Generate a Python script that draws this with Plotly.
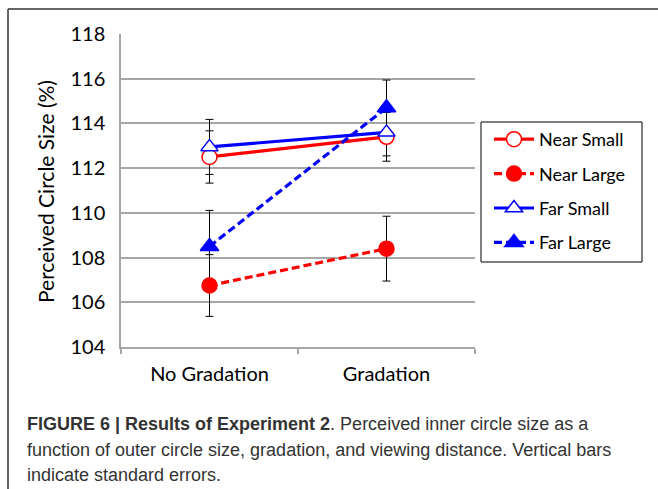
import plotly.graph_objects as go

categories = ["No Gradation", "Gradation"]
series_names = ["Near Small", "Near Large", "Far Small", "Far Large"]
near_small = [112.5, 113.4]
near_large = [106.75, 108.4]
far_small = [112.95, 113.6]
far_large = [108.5, 114.7]
near_small_err = [1.17, 1.09]
near_large_err = [1.38, 1.45]
far_small_err = [1.23, 1.05]
far_large_err = [1.61, 1.24]
y_ticks = [104, 106, 108, 110, 112, 114, 116, 118]

W, H = 658, 489
L, R, T, B = 121, 475, 34, 347


def px(x):
    return (x - L) / (R - L)


def py(y):
    return (B - y) / (B - T)


RED = "#ff0000"
BLUE = "#0000ff"
values = [near_small, near_large, far_small, far_large]
errors = [near_small_err, near_large_err, far_small_err, far_large_err]
colors = [RED, RED, BLUE, BLUE]
dashes = ["solid", "8px,4px", "solid", "8px,4px"]
symbols = ["circle", "circle", "triangle-up", "triangle-up"]
fills = ["white", RED, "white", BLUE]
sizes = [15, 15, 15, 16]

fig = go.Figure()
# error bars first so markers sit on top
for v, e in zip(values, errors):
    fig.add_trace(go.Scatter(
        x=categories, y=v, mode="markers",
        marker=dict(size=1, color="rgba(0,0,0,0)"),
        error_y=dict(type="data", array=e, visible=True, color="#000000",
                     thickness=1, width=4),
        showlegend=False, hoverinfo="skip"))

for name, v, c, d, s, f, sz in zip(series_names, values, colors, dashes,
                                    symbols, fills, sizes):
    fig.add_trace(go.Scatter(
        x=categories, y=v, mode="lines+markers", name=name,
        line=dict(color=c, width=3.2, dash=d),
        marker=dict(symbol=s, size=sz, color=f, line=dict(color=c, width=1.5)),
        legendgroup=name))

FONT = "Lato, 'Open Sans', sans-serif"
CAP_FONT = "'Liberation Sans Narrow', 'Liberation Sans', Arial, sans-serif"

shapes = [
    # outer frame (left and top)
    dict(type="line", xref="paper", yref="paper", x0=px(8), x1=px(8),
         y0=py(9), y1=py(489), line=dict(color="#333333", width=1.5)),
    dict(type="line", xref="paper", yref="paper", x0=px(8), x1=px(658),
         y0=py(9), y1=py(9), line=dict(color="#333333", width=1.5)),
    # legend box
    dict(type="rect", xref="paper", yref="paper", x0=px(481), x1=px(642),
         y0=py(122), y1=py(262), line=dict(color="#000000", width=1),
         fillcolor="rgba(0,0,0,0)"),
]

annotations = [
    dict(text="Perceived Circle Size (%)", textangle=-90, xref="paper",
         yref="paper", x=px(45), y=py(192), showarrow=False,
         xanchor="center", yanchor="middle",
         font=dict(family=FONT, size=21, color="#000000")),
    dict(text="<b>FIGURE 6 | Results of Experiment 2</b>. Perceived inner circle size as a",
         xref="paper", yref="paper", x=px(25), y=py(424), showarrow=False,
         xanchor="left", yanchor="middle", align="left",
         font=dict(family=CAP_FONT, size=18, color="#333333")),
    dict(text="function of outer circle size, gradation, and viewing distance. Vertical bars",
         xref="paper", yref="paper", x=px(25), y=py(450), showarrow=False,
         xanchor="left", yanchor="middle", align="left",
         font=dict(family=CAP_FONT, size=18, color="#333333")),
    dict(text="indicate standard errors.",
         xref="paper", yref="paper", x=px(25), y=py(475), showarrow=False,
         xanchor="left", yanchor="middle", align="left",
         font=dict(family=CAP_FONT, size=18, color="#333333")),
]

fig.update_layout(
    width=W, height=H,
    margin=dict(l=L, r=W - R, t=T, b=H - B, pad=0),
    paper_bgcolor="white", plot_bgcolor="white",
    font=dict(family=FONT, color="#000000"),
    showlegend=True,
    legend=dict(x=px(489), y=py(121), xanchor="left", yanchor="top",
                bgcolor="rgba(0,0,0,0)", borderwidth=0,
                font=dict(family=FONT, size=18, color="#000000"),
                traceorder="grouped", tracegroupgap=8, itemwidth=40),
    xaxis=dict(type="category", range=[-0.5, 1.5], showgrid=False,
               showline=True, linecolor="#a6a6a6", linewidth=1.5,
               ticks="outside", tickson="boundaries", ticklen=5,
               tickcolor="#a6a6a6", tickwidth=1.5, ticklabelstandoff=8,
               tickfont=dict(family=FONT, size=20, color="#000000")),
    yaxis=dict(range=[104, 118], tickvals=y_ticks, showgrid=True,
               gridcolor="#a6a6a6", gridwidth=1.5, showline=True,
               linecolor="#a6a6a6", linewidth=1.5, zeroline=False,
               ticks="", ticklabelstandoff=10,
               tickfont=dict(family=FONT, size=20, color="#000000")),
    shapes=shapes, annotations=annotations,
)

fig.write_html(
    "out.html",
    config={"displayModeBar": False},
    post_script="document.body.style.margin='0';document.body.style.overflow='hidden';",
)
